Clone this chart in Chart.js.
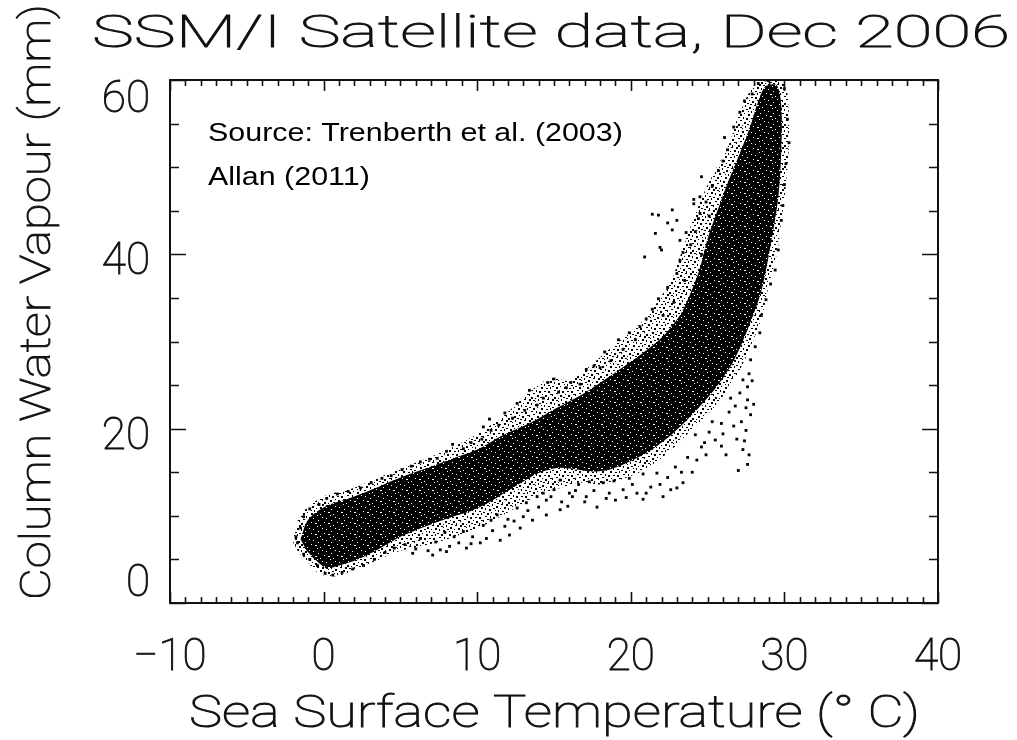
<!DOCTYPE html>
<html>
<head>
<meta charset="utf-8">
<title>SSM/I Satellite data, Dec 2006</title>
<script src="https://cdn.jsdelivr.net/npm/chart.js@4.4.1/dist/chart.umd.min.js"></script>
<style>
  html, body { margin: 0; padding: 0; background: #fff; }
  #wrap { width: 1017px; height: 740px; }
</style>
</head>
<body>
<div id="wrap"><canvas id="scatterChart" width="1017" height="740"></canvas></div>
<script>
// axis ranges and labelled ticks
const sstTicks = [-10, 0, 10, 20, 30, 40];
const cwvTicks = [0, 20, 40, 60];

// envelope of the bulk of the retrievals [SST degC, CWV mm]
const haloOutline = [
  [-2.0, 7.0], [-1.7, 9.4], [-1.1, 10.9], [0.1, 12.3], [1.8, 13.1], [3.6, 14.4],
  [5.2, 15.6], [6.6, 16.5], [8.4, 17.9], [10.2, 19.6], [11.8, 21.6], [13.4, 24.2],
  [14.8, 25.8], [16.0, 25.5], [17.2, 27.0], [18.4, 28.8], [19.9, 31.0], [21.0, 32.7],
  [21.9, 35.0], [22.6, 36.8], [23.1, 39.2], [23.6, 41.8], [24.2, 44.6], [24.9, 47.6],
  [25.6, 50.0], [26.4, 52.7], [27.0, 55.9], [27.8, 58.8], [28.6, 60.0], [29.8, 60.0],
  [30.2, 58.4], [30.3, 53.0], [30.1, 48.0], [29.8, 43.6], [29.5, 40.0], [29.0, 36.6],
  [28.5, 32.6], [27.6, 28.6], [26.6, 25.2], [25.2, 22.0], [23.8, 19.6], [22.4, 17.2],
  [20.8, 15.2], [19.4, 14.2], [18.0, 13.6], [16.6, 13.8], [15.4, 13.2], [14.0, 12.4],
  [12.6, 11.0], [11.2, 9.6], [9.8, 8.4], [8.2, 7.4], [6.6, 6.6], [5.0, 6.0],
  [3.6, 5.0], [2.2, 3.9], [0.9, 3.1], [-0.2, 3.3], [-1.0, 4.6], [-1.7, 6.0]
];

// outline of the densest part of the cloud
const coreOutline = [
  [-1.5, 7.3], [-1.1, 9.3], [-0.5, 10.4], [0.4, 11.3], [1.5, 11.9], [3.0, 12.9],
  [5.0, 14.4], [6.6, 15.4], [8.3, 16.5], [10.0, 17.6], [11.6, 19.2], [13.6, 20.8],
  [15.2, 22.4], [16.8, 23.9], [18.2, 25.5], [19.6, 27.2], [20.8, 28.7], [22.1, 30.6],
  [23.2, 33.0], [23.9, 35.6], [24.5, 38.4], [25.0, 41.8], [25.7, 45.3], [26.4, 48.6],
  [27.1, 51.6], [27.8, 54.8], [28.3, 57.6], [28.8, 59.3], [29.5, 59.4], [29.8, 57.0],
  [29.8, 52.0], [29.6, 46.5], [29.1, 41.0], [28.5, 35.8], [27.7, 31.8], [26.7, 27.8],
  [25.5, 24.6], [24.1, 21.8], [22.7, 19.4], [21.2, 17.4], [19.9, 16.2], [18.6, 15.3],
  [17.4, 15.1], [16.2, 15.4], [15.2, 15.5], [14.0, 14.9], [12.6, 13.5], [11.2, 12.0],
  [9.8, 10.7], [8.4, 9.9], [6.8, 8.9], [5.0, 7.6], [3.6, 6.2], [2.2, 5.0],
  [1.0, 4.3], [0.2, 4.0], [-0.5, 4.9], [-1.1, 6.0]
];

// scattered retrievals above / left of the core
const upperFringe = [
  [-1.8, 7.6], [-1.5, 8.6], [-1.3, 9.9], [-0.9, 10.8], [-0.3, 11.3], [0.2, 12.0],
  [0.9, 12.5], [1.6, 12.8], [2.4, 13.2], [3.1, 13.8], [3.8, 14.3], [4.4, 14.6],
  [5.1, 15.3], [5.7, 15.7], [6.3, 16.2], [6.9, 16.5], [7.4, 16.6], [8.0, 17.4],
  [8.4, 18.2], [9.1, 17.7], [9.6, 18.4], [10.3, 18.8], [10.4, 20.2], [10.9, 19.8],
  [10.8, 21.1], [11.4, 20.4], [11.8, 21.8], [12.3, 21.2], [12.6, 22.9], [13.1, 22.1],
  [13.4, 24.4], [13.9, 22.7], [14.3, 23.5], [14.6, 25.3], [15.0, 25.7], [15.3, 24.2],
  [15.8, 24.7], [16.1, 25.3], [16.7, 25.1], [17.1, 26.8], [17.6, 27.2], [18.0, 27.0],
  [18.3, 28.8], [18.7, 27.8], [19.2, 30.2], [19.5, 29.1], [19.9, 31.0], [20.3, 30.2],
  [20.6, 31.7], [21.0, 32.6], [21.4, 33.7], [21.8, 34.9], [22.1, 33.0], [22.4, 36.2],
  [22.8, 34.5], [23.0, 37.8], [23.2, 39.3], [23.5, 37.0], [23.4, 40.2], [23.9, 41.1],
  [24.2, 42.6], [24.4, 44.1], [24.6, 40.0], [24.9, 46.0], [25.1, 44.4], [24.6, 48.9],
  [24.1, 46.3], [25.3, 47.8], [25.7, 49.6], [26.0, 50.7], [26.3, 52.0], [26.1, 53.4],
  [26.7, 54.6], [27.1, 56.3], [27.4, 57.6], [27.9, 58.4], [28.3, 59.6], [28.8, 60.0]
];

// isolated moist points left of the warm branch
const warmOutliers = [
  [21.4, 44.6], [21.8, 44.5], [22.4, 43.6], [22.7, 45.1], [23.0, 43.9], [21.6, 42.4],
  [22.7, 42.8], [20.9, 39.7], [22.0, 40.5], [21.9, 40.8], [23.2, 41.6], [23.6, 42.5],
  [24.5, 44.7], [24.1, 45.8], [24.5, 46.6]
];

// scattered retrievals below the core
const lowerFringe = [
  [-1.7, 6.9], [-1.3, 5.6], [-0.9, 5.0], [-0.4, 4.3], [0.1, 3.4], [0.6, 3.2],
  [1.2, 3.5], [1.9, 3.9], [2.6, 4.3], [3.3, 5.0], [4.0, 5.8], [4.6, 6.3],
  [5.3, 6.7], [5.8, 5.7], [6.3, 7.4], [7.1, 5.5], [7.6, 6.1], [7.9, 8.1],
  [8.2, 6.5], [8.5, 7.6], [8.8, 6.9], [9.3, 6.3], [9.1, 8.2], [9.7, 7.6],
  [10.2, 6.9], [10.4, 8.9], [10.9, 9.5], [11.5, 7.2], [11.3, 10.1], [12.1, 7.8],
  [12.0, 9.6], [12.8, 8.6], [12.6, 10.9], [13.0, 9.9], [13.6, 9.5], [13.2, 11.5],
  [13.9, 12.2], [14.5, 10.1], [14.5, 11.8], [14.3, 12.6], [15.0, 13.0], [15.4, 10.7],
  [15.5, 11.6], [15.4, 14.1], [16.0, 12.6], [16.2, 12.2], [16.6, 13.6], [17.1, 12.2],
  [17.3, 13.9], [17.8, 11.0], [18.2, 13.8], [18.6, 12.6], [18.9, 14.0], [19.5, 13.0],
  [19.9, 14.3], [20.4, 12.6], [20.8, 11.9], [20.8, 14.8], [21.3, 13.3], [21.7, 14.9],
  [22.1, 12.2], [22.4, 14.4], [22.9, 15.6], [23.0, 13.2], [23.4, 13.8], [23.7, 16.7],
  [24.0, 15.0], [6.0, 6.2], [6.8, 6.0], [7.3, 7.0], [8.0, 5.9], [9.6, 6.8],
  [10.6, 7.4], [11.0, 8.3], [11.8, 8.8], [12.4, 9.4], [13.3, 10.6], [14.0, 11.0],
  [14.8, 12.2], [15.9, 11.1], [16.4, 12.9], [17.0, 11.6], [17.6, 12.9], [18.4, 12.0],
  [19.0, 11.8], [19.7, 12.1], [20.1, 13.6], [21.0, 12.6], [21.9, 13.6], [22.6, 13.0],
  [23.3, 15.0], [24.3, 16.4], [24.9, 17.0]
];

// scattered retrievals on the warm side of the core
const rightFringe = [
  [30.0, 59.0], [30.2, 55.5], [30.3, 52.8], [30.1, 50.4], [30.0, 48.0], [29.9, 45.6],
  [29.8, 43.9], [29.6, 40.5], [29.4, 38.2], [29.1, 36.6], [28.8, 34.8], [28.5, 33.0],
  [28.4, 31.0], [28.1, 29.4], [27.8, 27.9], [27.7, 26.3], [27.6, 24.8], [27.6, 23.3],
  [27.8, 21.6], [27.5, 19.8], [27.3, 17.6], [27.6, 15.9], [27.1, 24.1], [26.8, 22.6],
  [26.4, 21.9], [26.7, 20.3], [25.9, 20.6], [25.1, 19.6], [25.5, 18.7], [25.9, 18.0],
  [24.6, 17.9], [24.2, 19.3], [26.2, 17.0], [27.0, 15.2], [27.4, 18.6], [27.2, 20.8],
  [27.5, 22.4], [27.3, 25.6], [26.9, 18.8], [26.5, 23.5], [26.0, 19.4], [25.3, 20.8],
  [24.8, 18.4], [27.7, 17.0], [27.9, 25.5], [28.0, 22.8]
];

const toXY = arr => arr.map(p => ({ x: p[0], y: p[1] }));

// stipple fills so the filled envelopes read as a field of dots
function stipple(w, h, ground, ink, specks) {
  const c = document.createElement('canvas');
  c.width = w; c.height = h;
  const g = c.getContext('2d');
  if (ground) { g.fillStyle = ground; g.fillRect(0, 0, w, h); }
  g.fillStyle = ink;
  specks.forEach(s => g.fillRect(s[0], s[1], s[2], s[3]));
  return g.createPattern(c, 'repeat');
}

const coreFill = stipple(13, 11, '#000', '#fff', [
  [1, 1, 1, 1], [6, 3, 1, 1], [10, 0, 1, 1], [3, 6, 2, 1], [8, 8, 1, 1], [12, 5, 1, 1], [5, 9, 1, 1]
]);
const haloFill = stipple(23, 21, null, '#000', [
  [0, 0, 2, 2], [4, 1, 2, 1], [9, 0, 1, 2], [13, 2, 2, 2], [18, 0, 2, 1], [21, 3, 2, 2],
  [2, 4, 1, 2], [6, 5, 2, 2], [10, 4, 2, 1], [15, 6, 1, 2], [19, 7, 2, 1],
  [0, 8, 2, 1], [4, 9, 2, 2], [8, 8, 1, 1], [12, 9, 2, 2], [17, 10, 2, 1], [21, 9, 1, 2],
  [2, 12, 2, 1], [7, 12, 1, 2], [10, 13, 2, 2], [15, 13, 2, 1], [19, 13, 2, 2],
  [0, 16, 1, 2], [4, 15, 2, 1], [8, 17, 2, 2], [13, 16, 1, 1], [16, 17, 2, 2], [21, 16, 2, 1],
  [2, 19, 2, 2], [6, 20, 1, 1], [11, 19, 2, 1], [14, 20, 2, 1], [19, 19, 1, 2],
  [12, 6, 1, 1], [6, 2, 1, 1], [17, 4, 1, 1]
]);

const hershey = size => '100 ' + size + 'px Roboto, "DejaVu Sans", sans-serif';

// thin stroke face, thickened slightly with an outline pass
function inkText(ctx, text, x, y) {
  ctx.fillText(text, x, y);
  ctx.strokeText(text, x, y);
}

// stretch a string horizontally so it spans the given width
function fitText(ctx, text, x, y, width, font) {
  ctx.font = font;
  const w = ctx.measureText(text).width;
  ctx.save();
  ctx.translate(x, y);
  ctx.scale(width / w, 1);
  ctx.textAlign = 'left';
  inkText(ctx, text, 0, 0);
  ctx.restore();
}

const framePlugin = {
  id: 'idlFrame',
  afterDraw(chart) {
    const ctx = chart.ctx;
    const { left, right, top, bottom } = chart.chartArea;
    const xs = chart.scales.x, ys = chart.scales.y;
    ctx.save();
    ctx.strokeStyle = '#111';
    ctx.fillStyle = '#111';
    ctx.lineWidth = 2;
    ctx.strokeRect(left, top, right - left, bottom - top);

    // inward ticks on all four sides
    ctx.lineWidth = 1.6;
    ctx.beginPath();
    for (let v = xs.min; v <= xs.max; v += 1) {
      const px = Math.round(xs.getPixelForValue(v)) + 0.5;
      const len = v % 10 === 0 ? 11 : 6;
      ctx.moveTo(px, bottom); ctx.lineTo(px, bottom - len);
      ctx.moveTo(px, top); ctx.lineTo(px, top + len);
    }
    for (let v = ys.min; v <= ys.max; v += 5) {
      const py = Math.round(ys.getPixelForValue(v)) + 0.5;
      const len = v % 20 === 0 ? 16 : 9;
      ctx.moveTo(left, py); ctx.lineTo(left + len, py);
      ctx.moveTo(right, py); ctx.lineTo(right - len, py);
    }
    ctx.stroke();

    // tick labels
    ctx.lineWidth = 0.9;
    ctx.font = hershey(44);
    ctx.textBaseline = 'alphabetic';
    ctx.textAlign = 'center';
    xs.ticks.forEach(t => {
      const s = t.value < 0 ? '\u2212' + Math.abs(t.value) : String(t.value);
      inkText(ctx, s, xs.getPixelForValue(t.value), 670);
    });
    ctx.textAlign = 'right';
    ys.ticks.forEach(t => {
      const py = ys.getPixelForValue(t.value);
      const base = Math.min(Math.max(py + 20, top + 32), bottom - 7);
      inkText(ctx, String(t.value), 150, base);
    });

    // titles
    fitText(ctx, 'SSM/I Satellite data, Dec 2006', 92, 47, 918, hershey(45));
    fitText(ctx, 'Sea Surface Temperature (\u00B0 C)', 189, 727, 731, hershey(45));
    ctx.save();
    ctx.translate(50, 600);
    ctx.rotate(-Math.PI / 2);
    fitText(ctx, 'Column Water Vapour (mm)', 0, 0, 596, hershey(43));
    ctx.restore();

    // source note
    ctx.fillStyle = '#000';
    ctx.save();
    ctx.translate(208, 0);
    ctx.scale(1.17, 1);
    ctx.font = '26px "Liberation Sans", Arial, sans-serif';
    ctx.textAlign = 'left';
    ctx.fillText('Source: Trenberth et al. (2003)', 0, 141);
    ctx.fillText('Allan (2011)', 0, 185);
    ctx.restore();
    ctx.restore();
  }
};

const dotStyle = {
  type: 'scatter',
  pointStyle: 'rect',
  pointRadius: 2,
  pointHoverRadius: 2,
  borderWidth: 0,
  backgroundColor: '#000',
  order: 1
};

new Chart(document.getElementById('scatterChart'), {
  type: 'scatter',
  data: {
    datasets: [
      {
        type: 'line',
        label: 'envelope',
        data: toXY(haloOutline),
        fill: 'shape',
        backgroundColor: haloFill,
        borderWidth: 0,
        pointRadius: 0,
        tension: 0.3,
        order: 3
      },
      {
        type: 'line',
        label: 'core',
        data: toXY(coreOutline),
        fill: 'shape',
        backgroundColor: coreFill,
        borderWidth: 0,
        pointRadius: 0,
        tension: 0.3,
        order: 2
      },
      Object.assign({ label: 'upper', data: toXY(upperFringe) }, dotStyle),
      Object.assign({ label: 'outliers', data: toXY(warmOutliers) }, dotStyle),
      Object.assign({ label: 'lower', data: toXY(lowerFringe) }, dotStyle),
      Object.assign({ label: 'right', data: toXY(rightFringe) }, dotStyle)
    ]
  },
  options: {
    responsive: false,
    animation: false,
    layout: { padding: { top: 80, right: 79, left: 0, bottom: 0 } },
    plugins: {
      legend: { display: false },
      title: { display: false },
      tooltip: { enabled: false }
    },
    scales: {
      x: {
        type: 'linear',
        min: -10,
        max: 40,
        grid: { display: false, drawTicks: false },
        border: { display: false },
        ticks: { display: false },
        afterBuildTicks: s => { s.ticks = sstTicks.map(v => ({ value: v })); },
        afterFit: s => { s.height = 137; }
      },
      y: {
        type: 'linear',
        min: 0,
        max: 60,
        grid: { display: false, drawTicks: false },
        border: { display: false },
        ticks: { display: false },
        afterBuildTicks: s => { s.ticks = cwvTicks.map(v => ({ value: v })); },
        afterFit: s => { s.width = 170; }
      }
    }
  },
  plugins: [framePlugin]
});
</script>
</body>
</html>
